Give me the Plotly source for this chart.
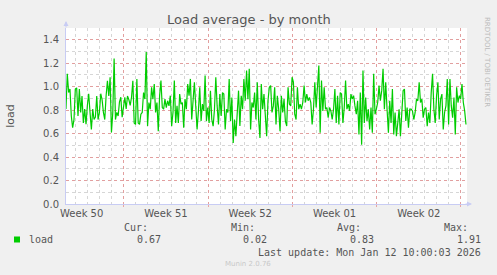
import plotly.graph_objects as go
import pandas as pd

# ---- data ----
load = [
    0.81, 1.11, 0.95, 0.98, 0.75, 0.65, 0.72, 0.98, 0.99, 0.75, 0.98, 0.78, 0.92, 0.69, 0.81, 0.68, 0.84,
    0.94, 0.78, 0.635, 0.81, 0.72, 0.74, 0.92, 0.72, 0.78, 0.94, 0.89, 0.78, 0.72, 0.92, 1.05, 0.92, 1.08,
    0.61, 0.78, 1.24, 0.72, 0.78, 0.75, 0.87, 0.91, 0.74, 0.84, 0.91, 0.81, 0.92, 0.89, 0.84, 0.91, 1.05,
    0.69, 0.678, 1.066, 0.69, 0.678, 0.765, 0.78, 0.95, 0.894, 1.296, 0.664, 0.865, 0.808, 0.995, 0.894,
    1.023, 0.78, 0.865, 0.621, 0.923, 1.052, 0.822, 0.808, 0.894, 0.822, 0.88, 0.836, 0.923, 0.664, 0.78,
    1.052, 0.69, 0.836, 0.69, 0.937, 0.851, 0.865, 0.65, 0.894, 0.808, 1.023, 0.923, 1.066, 0.72, 0.88,
    1.038, 0.836, 0.635, 0.793, 0.995, 0.707,
    0.851, 0.793, 1.095, 0.707, 0.822, 0.69, 0.966, 0.72, 0.664, 0.808, 1.081, 0.836, 0.678, 0.937, 0.75,
    0.95, 0.937, 0.635, 0.808, 0.78, 1.066, 0.707, 0.908, 0.52, 0.72, 0.578, 0.75, 0.966, 0.664, 0.923,
    0.808, 1.066, 0.88, 1.138, 0.894, 1.153, 0.635, 0.865, 0.822, 0.95, 0.72, 1.038, 0.72, 0.563, 1.023,
    0.808, 0.937, 0.75, 0.578, 0.88, 0.995,
    1.009, 0.78, 0.836, 0.995, 0.678, 0.923, 0.808, 0.621, 0.923, 0.78, 0.894, 0.707, 0.664, 0.995, 0.851,
    0.836, 1.081, 1.038, 0.765, 0.72, 0.995, 0.808, 0.851, 0.808, 0.865, 1.009, 0.865, 0.937, 0.88, 0.908,
    0.865, 0.678, 0.808, 1.038, 0.822, 1.009, 1.181, 0.607, 1.052, 0.793, 0.995, 0.808, 0.822, 0.736,
    0.822, 0.793, 0.72, 0.808, 0.98, 0.69, 0.923,
    0.678, 0.95, 0.937, 0.69, 0.822, 1.052, 0.808, 0.851, 0.793, 0.937, 0.894, 0.923, 0.836, 0.765, 0.88,
    0.592, 0.95, 0.506, 1.138, 0.69, 0.908, 0.707, 0.808, 0.635, 0.822, 0.607, 1.11, 0.765, 0.808, 0.865,
    1.009, 0.88, 0.966, 1.153, 0.808, 1.038, 0.808, 0.607, 0.88, 0.69, 0.98, 0.592, 0.78, 0.578, 0.69,
    0.808, 0.578, 0.765, 0.966, 0.98, 0.707,
    0.822, 0.65, 0.808, 0.808, 0.793, 0.72, 0.78, 0.894, 0.88, 1.038, 0.865, 0.894, 0.736, 0.808, 0.822,
    0.664, 0.78, 0.69, 0.95, 1.11, 0.808, 0.69, 0.923, 1.038, 0.72, 0.894, 0.937, 0.635, 0.78, 0.836,
    1.066, 0.678, 1.066, 0.836, 0.736, 0.908, 0.592, 0.995, 0.865, 0.923, 0.894, 1.023, 0.865, 0.793, 0.678,
]
last_update = "2026-01-12 10:00"
sample_step = "160min"
times = pd.date_range(end=last_update, periods=len(load), freq=sample_step)

x_range = ["2025-12-10 04:45", "2026-01-12 12:00"]
week_starts = ["2025-12-15", "2025-12-22", "2025-12-29", "2026-01-05", "2026-01-12"]
week_label_pos = ["2025-12-11 12:00", "2025-12-18 12:00", "2025-12-25 12:00",
                  "2026-01-01 12:00", "2026-01-08 12:00"]
week_labels = ["Week 50", "Week 51", "Week 52", "Week 01", "Week 02"]
y_ticks = [0.0, 0.2, 0.4, 0.6, 0.8, 1.0, 1.2, 1.4]

stats_heads = ["Cur:", "Min:", "Avg:", "Max:"]
stats_vals = ["0.67", "0.02", "0.83", "1.91"]

# ---- layout geometry ----
W, H = 497, 275
L, R, T, B = 66, 30, 28, 71
PW, PH = W - L - R, H - T - B


def px(x):
    return (x - L) / PW


def py(y):
    return (H - B - y) / PH


MAJ = "rgba(230,140,140,0.75)"
MIN = "rgba(200,200,200,0.75)"
AXC = "#C8CCF4"
TXT = "#555555"
MONO = "DejaVu Sans Mono"

fig = go.Figure()
fig.add_trace(go.Scatter(x=times, y=load, mode="lines",
                         line=dict(color="#00CC00", width=1.2), showlegend=False,
                         hoverinfo="skip"))
# invisible companion trace so the label axis (x2) is drawn
fig.add_trace(go.Scatter(x=times, y=load, mode="lines", xaxis="x2", opacity=0,
                         line=dict(width=0), showlegend=False, hoverinfo="skip"))

fig.update_layout(
    width=W, height=H,
    margin=dict(l=L, r=R, t=T, b=B, autoexpand=False),
    paper_bgcolor="#F0F0F0", plot_bgcolor="#FFFFFF",
    font=dict(family="DejaVu Sans", size=10, color=TXT),
    showlegend=False,
    xaxis=dict(
        type="date", range=x_range, tickmode="array", tickvals=week_starts,
        ticktext=[""] * len(week_starts), automargin=False,
        showgrid=True, gridcolor=MAJ, griddash="dot", gridwidth=1,
        ticks="outside", ticklen=2, tickcolor=MAJ,
        minor=dict(tickmode="linear", tick0="2025-12-08", dtick=86400000,
                   showgrid=True, gridcolor=MIN, griddash="dot", ticks=""),
        showline=True, linecolor=AXC, linewidth=1, zeroline=False, fixedrange=True,
    ),
    xaxis2=dict(
        type="date", range=x_range, overlaying="x", anchor="y", side="bottom",
        tickmode="array", tickvals=week_label_pos, ticktext=week_labels, automargin=False,
        showgrid=False, ticks="", showline=False, zeroline=False,
        tickfont=dict(size=10, color=TXT), ticklabelstandoff=2,
    ),
    yaxis=dict(
        range=[0, 1.5], tickmode="array", tickvals=y_ticks, automargin=False,
        ticktext=[f"{v:.1f}" for v in y_ticks],
        showgrid=True, gridcolor=MAJ, griddash="dot",
        minor=dict(tickmode="linear", tick0=0, dtick=0.1, showgrid=True,
                   gridcolor=MIN, griddash="dot", ticks=""),
        showline=True, linecolor=AXC, linewidth=1, zeroline=False,
        ticks="", ticklabelstandoff=4,
        title=dict(text="load", font=dict(size=11, color=TXT), standoff=26),
    ),
)

ann = []
ann.append(dict(text="Load average - by month", x=px(249), y=py(19), xref="paper", yref="paper",
                showarrow=False, font=dict(size=13, color=TXT), xanchor="center", yanchor="middle"))
ann.append(dict(text="RRDTOOL / TOBI OETIKER", x=px(487), y=py(15), xref="paper", yref="paper",
                showarrow=False, textangle=90, font=dict(size=7, color="#BBBBBB"),
                xanchor="center", yanchor="top"))
# axis arrows
ann.append(dict(text="", x=px(66), y=py(21), xref="paper", yref="paper", showarrow=True,
                ax=0, ay=8, arrowhead=2, arrowsize=1, arrowwidth=1, arrowcolor=AXC))
ann.append(dict(text="", x=px(472), y=py(204), xref="paper", yref="paper", showarrow=True,
                ax=-8, ay=0, arrowhead=2, arrowsize=1, arrowwidth=1, arrowcolor=AXC))
# legend
ann.append(dict(text="load", x=px(27), y=py(239.5), xref="paper", yref="paper", showarrow=False,
                xanchor="left", yanchor="middle", font=dict(family=MONO, size=10, color=TXT)))
head_right = [150, 257, 363, 470]
val_right = [163, 269, 376, 483]
for h, v, hr, vr in zip(stats_heads, stats_vals, head_right, val_right):
    ann.append(dict(text=h, x=px(hr), y=py(228), xref="paper", yref="paper", showarrow=False,
                    xanchor="right", yanchor="middle", font=dict(family=MONO, size=10, color=TXT)))
    ann.append(dict(text=v, x=px(vr), y=py(239.5), xref="paper", yref="paper", showarrow=False,
                    xanchor="right", yanchor="middle", font=dict(family=MONO, size=10, color=TXT)))
ann.append(dict(text="Last update: Mon Jan 12 10:00:03 2026", x=px(483), y=py(252),
                xref="paper", yref="paper", showarrow=False, xanchor="right", yanchor="middle",
                font=dict(family=MONO, size=10, color=TXT)))
ann.append(dict(text="Munin 2.0.76", x=px(248), y=py(264), xref="paper", yref="paper",
                showarrow=False, xanchor="center", yanchor="middle",
                font=dict(size=7, color="#C8C8C8")))
fig.update_layout(annotations=ann)

# legend colour swatch
fig.add_shape(type="rect", xref="paper", yref="paper", x0=px(14), x1=px(20), y0=py(242.5), y1=py(236.5),
              fillcolor="#00CC00", line=dict(width=0))

fig.write_html("out.html")
